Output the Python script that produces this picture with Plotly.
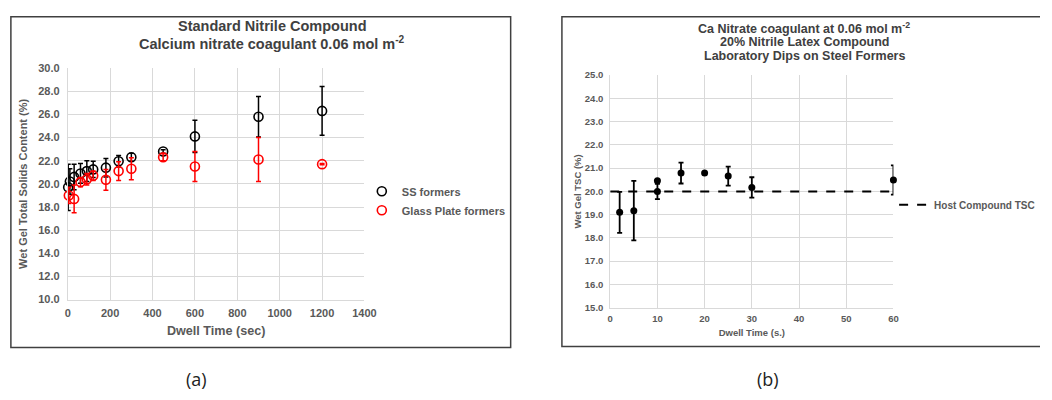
import plotly.graph_objects as go

W, H = 1052, 400

# ---------------- Panel (a) data ----------------
ss_time = [2, 10, 30, 60, 90, 120, 180, 240, 300, 450, 600, 900, 1200]
ss_tsc = [19.7, 20.2, 20.6, 20.9, 21.1, 21.25, 21.4, 21.95, 22.3, 22.8, 24.1, 25.8, 26.3]
ss_err = [2.0, 1.1, 1.1, 0.85, 0.9, 0.7, 0.8, 0.5, 0.35, 0.15, 1.4, 1.75, 2.1]

gp_time = [5, 30, 60, 90, 120, 180, 240, 300, 450, 600, 900, 1200]
gp_tsc = [19.0, 18.7, 20.15, 20.4, 20.7, 20.35, 21.1, 21.3, 22.3, 21.5, 22.1, 21.7]
gp_err = [0.7, 1.2, 0.4, 0.5, 0.4, 0.9, 0.8, 0.95, 0.3, 1.3, 1.9, 0.05]

# ---------------- Panel (b) data ----------------
b_time = [2, 5, 10, 10, 15, 20, 25, 30, 60]
b_tsc = [19.1, 19.17, 20.46, 20.0, 20.79, 20.79, 20.66, 20.17, 20.49]
b_err = [0.88, 1.28, 0.0, 0.33, 0.45, 0.0, 0.41, 0.44, 0.63]

host_time = [0, 60]
host_tsc = [20.0, 20.0]

a_xticks = [0, 200, 400, 600, 800, 1000, 1200, 1400]
a_yticks = [10, 12, 14, 16, 18, 20, 22, 24, 26, 28, 30]
b_xticks = [0, 10, 20, 30, 40, 50, 60]
b_yticks = [15, 16, 17, 18, 19, 20, 21, 22, 23, 24, 25]

a_title = ["Standard Nitrile Compound",
           "Calcium nitrate coagulant 0.06 mol m<sup>-2</sup>"]
b_title = ["Ca Nitrate coagulant at 0.06 mol m<sup>-2</sup>",
           "20% Nitrile Latex Compound",
           "Laboratory Dips on Steel Formers"]

FONT = "Liberation Sans"
TXT = "#595959"
DARK = "#404040"
GRID = "#d9d9d9"


def px_x(p):
    return p / W


def px_y(p):
    return 1 - p / H


fig = go.Figure()

fig.add_trace(go.Scatter(
    x=ss_time, y=ss_tsc, mode="markers", name="SS formers", cliponaxis=False,
    marker=dict(symbol="circle-open", size=9, color="black", line=dict(width=1.6)),
    error_y=dict(type="data", array=ss_err, color="black", thickness=1.5, width=2.5),
    xaxis="x", yaxis="y", legend="legend",
))
fig.add_trace(go.Scatter(
    x=gp_time, y=gp_tsc, mode="markers", name="Glass Plate formers", cliponaxis=False,
    marker=dict(symbol="circle-open", size=9, color="#ff0000", line=dict(width=1.6)),
    error_y=dict(type="data", array=gp_err, color="#ff0000", thickness=1.5, width=2.5),
    xaxis="x", yaxis="y", legend="legend",
))

fig.add_trace(go.Scatter(
    x=host_time, y=host_tsc, mode="lines", name="Host Compound TSC", cliponaxis=False,
    line=dict(color="black", width=2, dash="dash"),
    xaxis="x2", yaxis="y2", legend="legend2",
))
fig.add_trace(go.Scatter(
    x=b_time, y=b_tsc, mode="markers", name="Wet Gel TSC", showlegend=False, cliponaxis=False,
    marker=dict(symbol="circle", size=7, color="black"),
    error_y=dict(type="data", array=b_err, color="black", thickness=1.8, width=2.5),
    xaxis="x2", yaxis="y2",
))

tickfont_a = dict(family=FONT, size=11, color=TXT, weight="bold")
tickfont_b = dict(family=FONT, size=9.5, color=TXT, weight="bold")

# frame of panel (b): open on the right (cut by the picture edge)
fb_l, fb_r, fb_t, fb_b = px_x(567), 1.0, px_y(11), px_y(351)
frame_b_path = f"M {fb_r},{fb_t} L {fb_l},{fb_t} L {fb_l},{fb_b} L {fb_r},{fb_b}"

annotations = []
for txt, yc in zip(a_title, [21, 38]):
    annotations.append(dict(
        text=txt, xref="paper", yref="paper", x=px_x(273), y=px_y(yc),
        xanchor="center", yanchor="middle", showarrow=False,
        font=dict(family=FONT, size=14.5, color=DARK, weight="bold")))
for txt, yc in zip(b_title, [23, 37.5, 52]):
    annotations.append(dict(
        text=txt, xref="paper", yref="paper", x=px_x(813), y=px_y(yc),
        xanchor="center", yanchor="middle", showarrow=False,
        font=dict(family=FONT, size=12.5, color=DARK, weight="bold")))
annotations += [
    dict(text="(a)", xref="paper", yref="paper", x=px_x(196), y=px_y(399),
         xanchor="center", yanchor="bottom", showarrow=False,
         font=dict(family="Open Sans", size=18, color="#222222")),
    dict(text="(b)", xref="paper", yref="paper", x=px_x(776), y=px_y(399),
         xanchor="center", yanchor="bottom", showarrow=False,
         font=dict(family="Open Sans", size=18, color="#222222")),
]

fig.update_layout(
    width=W, height=H,
    margin=dict(l=0, r=0, t=0, b=0),
    paper_bgcolor="white", plot_bgcolor="white",
    font=dict(family=FONT, color=TXT),
    xaxis=dict(
        domain=[px_x(65.7), px_x(366.7)], range=[0, 1400],
        tickvals=a_xticks, ticktext=[str(v) for v in a_xticks],
        showgrid=True, gridcolor=GRID, gridwidth=1, zeroline=False,
        showline=True, linecolor=GRID, linewidth=1, ticks="", ticklabelstandoff=3,
        tickfont=tickfont_a, anchor="y",
        title=dict(text="Dwell Time (sec)", standoff=8,
                   font=dict(family=FONT, size=12.6, color=TXT, weight="bold")),
    ),
    yaxis=dict(
        domain=[px_y(302.7), px_y(64)], range=[10, 30],
        tickvals=a_yticks, ticktext=[f"{v:.1f}" for v in a_yticks],
        showgrid=True, gridcolor=GRID, gridwidth=1, zeroline=False,
        showline=True, linecolor=GRID, linewidth=1, ticks="", ticklabelstandoff=5,
        tickfont=tickfont_a, anchor="x",
        title=dict(text="Wet Gel Total Solids Content (%)", standoff=8,
                   font=dict(family=FONT, size=11, color=TXT, weight="bold")),
    ),
    xaxis2=dict(
        domain=[px_x(616), px_x(903.3)], range=[0, 60],
        tickvals=b_xticks, ticktext=[str(v) for v in b_xticks],
        showgrid=True, gridcolor=GRID, gridwidth=1, zeroline=False,
        showline=True, linecolor=GRID, linewidth=1, ticks="", ticklabelstandoff=2,
        tickfont=tickfont_b, anchor="y2",
        title=dict(text="Dwell Time (s.)", standoff=6,
                   font=dict(family=FONT, size=9.5, color=TXT, weight="bold")),
    ),
    yaxis2=dict(
        domain=[px_y(311), px_y(71.3)], range=[15, 25],
        tickvals=b_yticks, ticktext=[f"{v:.1f}" for v in b_yticks],
        showgrid=True, gridcolor=GRID, gridwidth=1, zeroline=False,
        showline=True, linecolor=GRID, linewidth=1, ticks="", ticklabelstandoff=4,
        tickfont=tickfont_b, anchor="x2",
        title=dict(text="Wet Gel TSC (%)", standoff=1,
                   font=dict(family=FONT, size=9.5, color=TXT, weight="bold")),
    ),
    legend=dict(
        x=px_x(364), y=px_y(176), xanchor="left", yanchor="top",
        bgcolor="rgba(0,0,0,0)", tracegroupgap=0, itemwidth=30,
        font=dict(family=FONT, size=11, color=TXT, weight="bold"),
    ),
    legend2=dict(
        x=px_x(904), y=px_y(190), xanchor="left", yanchor="top",
        bgcolor="rgba(0,0,0,0)", itemwidth=30,
        font=dict(family=FONT, size=10, color=TXT, weight="bold"),
    ),
    shapes=[
        dict(type="rect", xref="paper", yref="paper",
             x0=px_x(8), x1=px_x(515), y0=px_y(352), y1=px_y(11),
             line=dict(color=DARK, width=1.5), fillcolor="rgba(0,0,0,0)"),
        dict(type="path", xref="paper", yref="paper", path=frame_b_path,
             line=dict(color=DARK, width=1.5)),
    ],
    annotations=annotations,
)

fig.write_html(
    "out.html",
    config={"displayModeBar": False},
    post_script=(
        "var de=document.documentElement,bd=document.body;"
        "de.style.overflow='hidden';de.style.width='1052px';de.style.height='400px';"
        "bd.style.margin='0';bd.style.overflow='hidden';"
        "bd.style.width='1052px';bd.style.height='400px';"
    ),
)
